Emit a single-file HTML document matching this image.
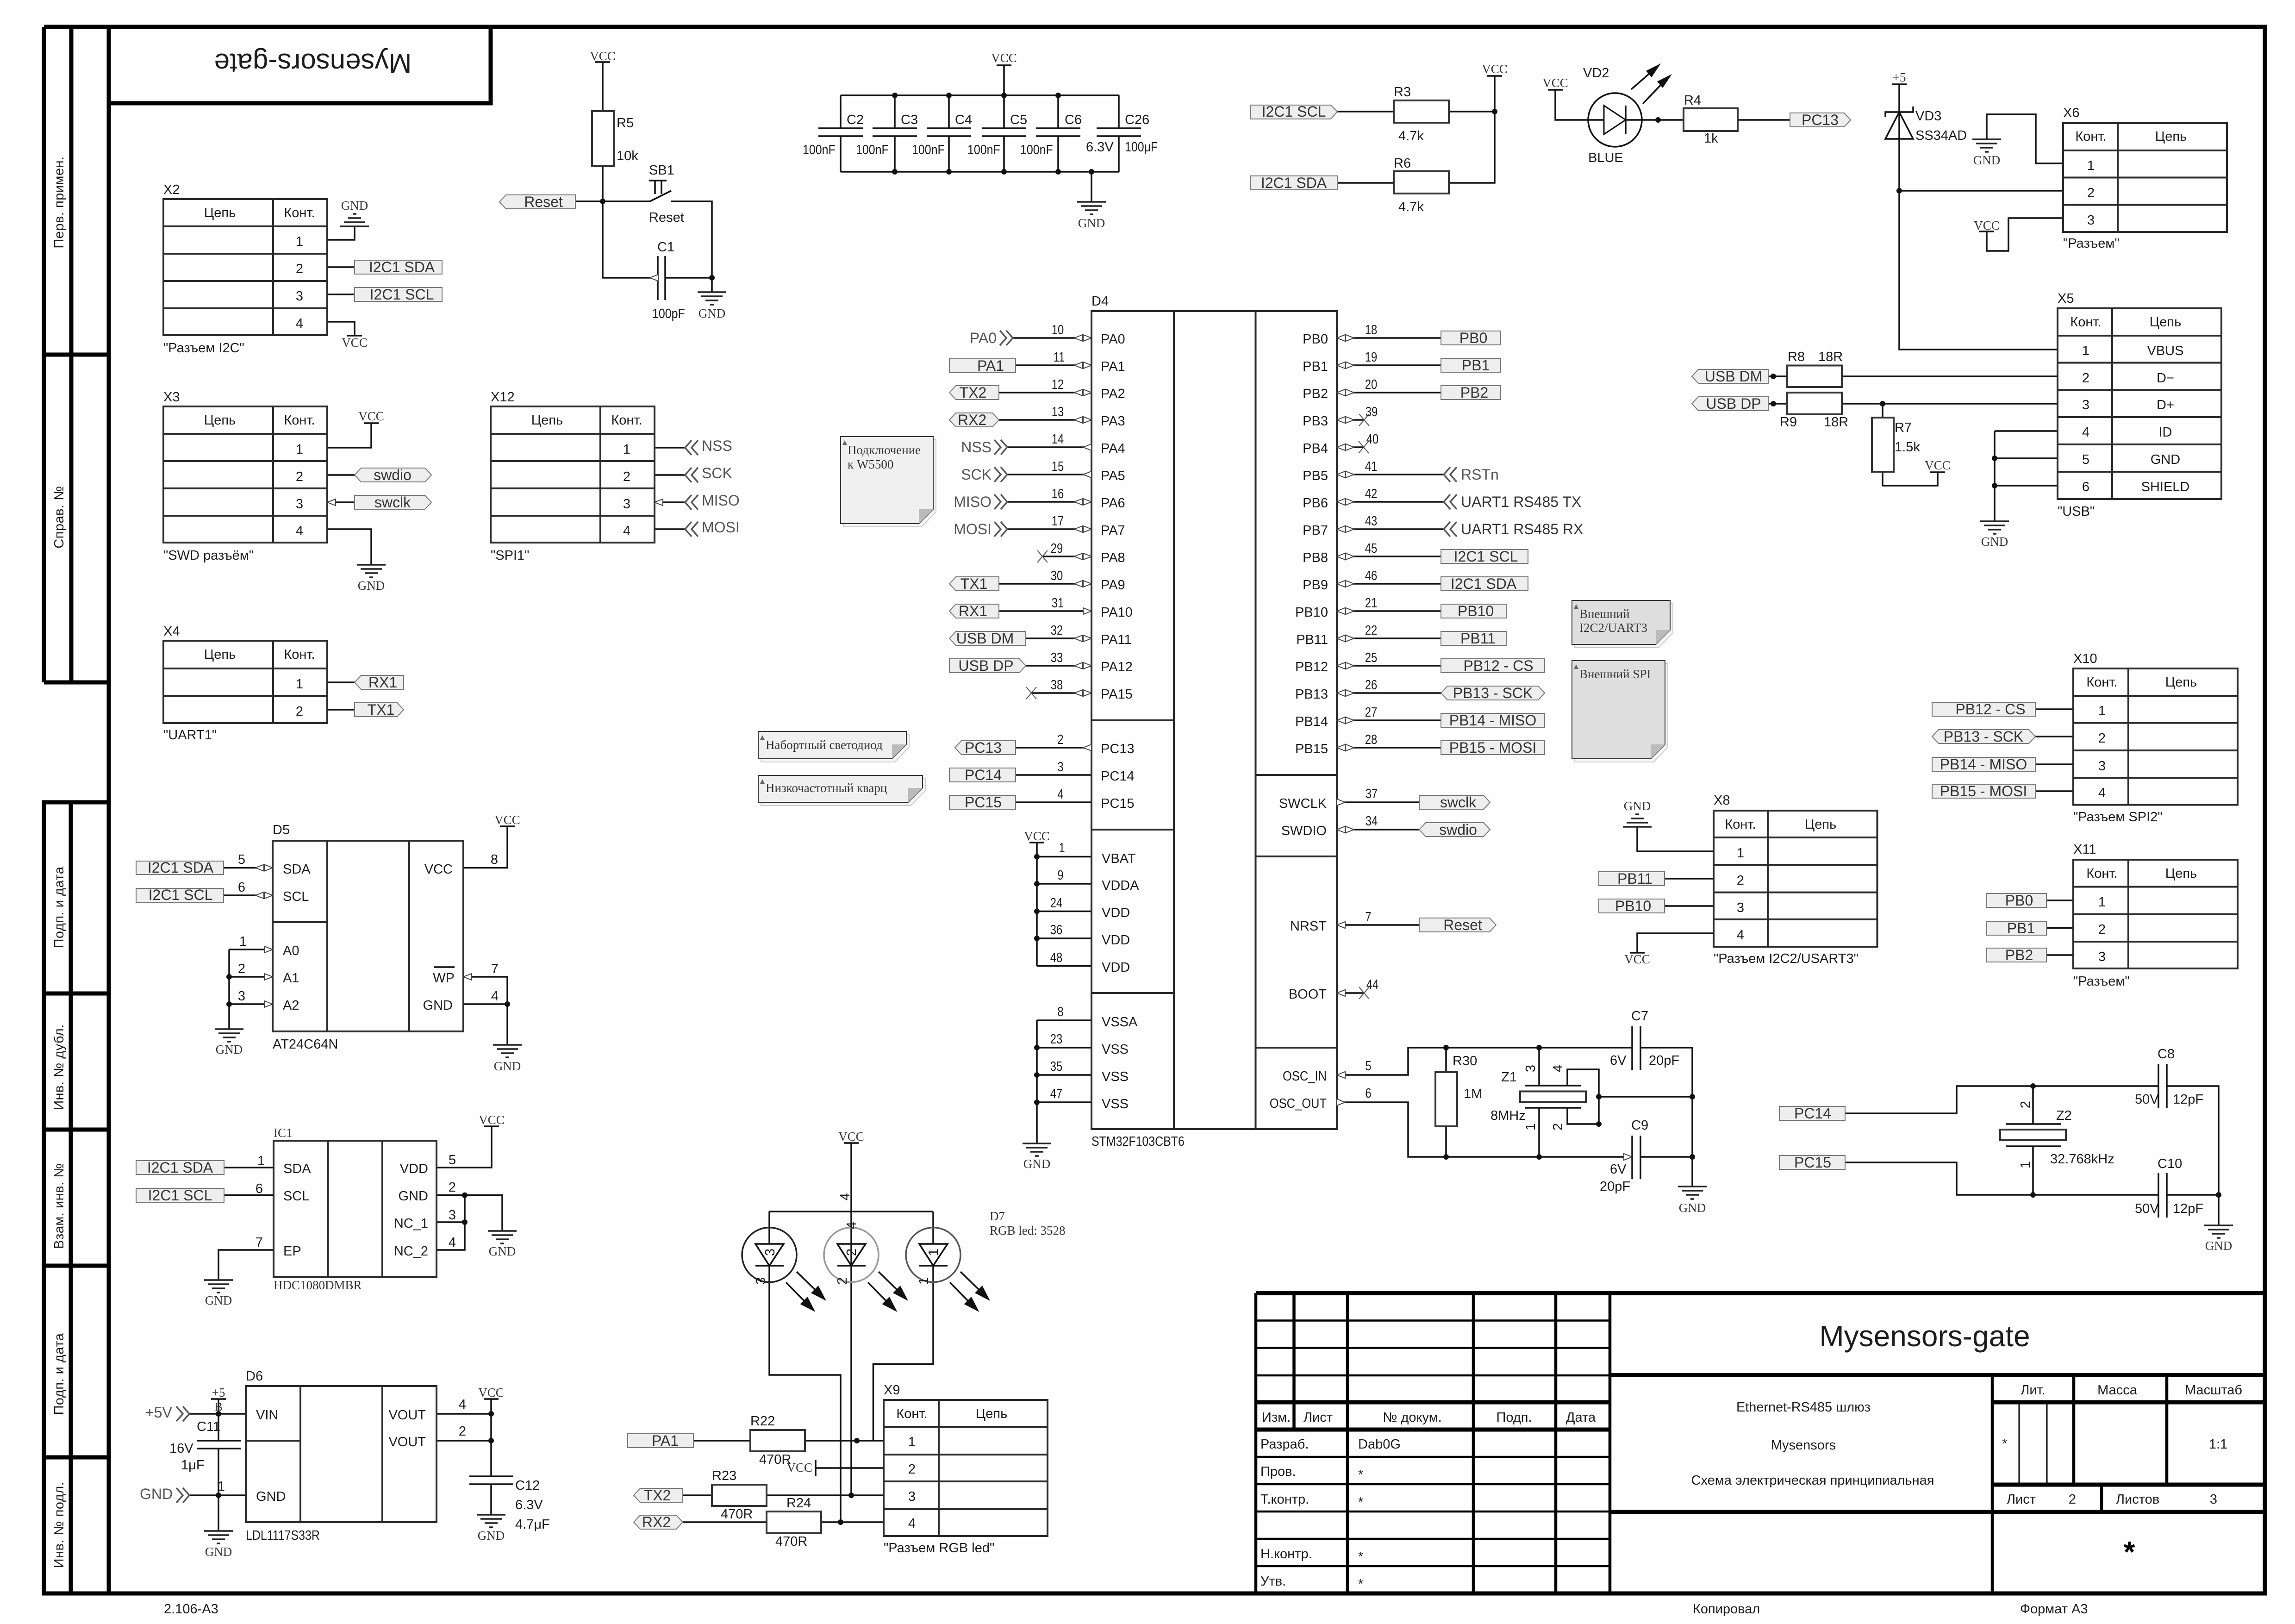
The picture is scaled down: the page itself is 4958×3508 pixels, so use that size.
<!DOCTYPE html>
<html><head><meta charset="utf-8"><style>
html,body{margin:0;padding:0;background:#fefefe}
svg{display:block}
text{font-family:"Liberation Sans",sans-serif;font-size:29px;fill:#1c1c1c}
.m{text-anchor:middle}.e{text-anchor:end}
.d text{text-anchor:middle;transform-box:fill-box;transform-origin:center;transform:scaleX(.82)}
.dl{transform-box:fill-box;transform-origin:left center;transform:scaleX(.86)}
.dr{transform-box:fill-box;transform-origin:right center;transform:scaleX(.88)}
.s{font-family:"Liberation Serif",serif;font-size:27px;fill:#333}
.L{font-size:32px;fill:#333}
.c{font-size:32px;fill:#555}
.f{font-size:28px;letter-spacing:.5px}
.k{font-size:26px}
.w{fill:none;stroke:#111;stroke-width:3.5}
.t{fill:none;stroke:#2a2a2a;stroke-width:4}
.F{fill:none;stroke:#000;stroke-width:9}
.h{fill:none;stroke:#000;stroke-width:4.5}
.v{fill:none;stroke:#000;stroke-width:6.5}
.b{fill:#eee;stroke:#777;stroke-width:2}
.o{fill:#fff;stroke:#444;stroke-width:2}
.sh{fill:#f5f5f5;stroke:#ccc;stroke-width:2}
.n{fill:#f0f0f0;stroke:#333;stroke-width:2}
.n2{fill:#dedede;stroke:#333;stroke-width:2}
.fo{fill:#bbb}.tr{fill:#666}
</style></head><body>
<svg xmlns="http://www.w3.org/2000/svg" width="4958" height="3508" viewBox="0 0 4958 3508">
<defs>
<g id="g" fill="none" stroke="#222" stroke-width="3.5"><path d="M-31 0H31M-23 9H23M-14 18H14M-4 27H4"/></g>
<g id="gu" fill="none" stroke="#222" stroke-width="3.5"><path d="M-31 0H31M-23 -9H23M-14 -18H14M-4 -27H4"/></g>
<g id="bl"><polygon class="o" points="0,0 -18,-7 -18,7"/><polygon class="o" points="-37,0 -19,-7 -19,7"/></g>
<g id="br"><polygon class="o" points="0,0 18,-7 18,7"/><polygon class="o" points="37,0 19,-7 19,7"/></g>
<polygon id="tl" class="o" points="0,0 18,-7 18,7"/>
<polygon id="tr" class="o" points="0,0 -18,-7 -18,7"/>
<path id="x" d="M-11 -13L11 13M-11 13L11 -13" fill="none" stroke="#555" stroke-width="2"/>
<path id="cl" d="M14 -16L0 0L14 16M28 -16L14 0L28 16" fill="none" stroke="#555" stroke-width="3.5"/>
<path id="cr" d="M-14 -16L0 0L-14 16M-28 -16L-14 0L-28 16" fill="none" stroke="#555" stroke-width="3.5"/>
<g id="la"><path d="M59 2747L105 2792M36 2770L80 2815" fill="none" stroke="#111" stroke-width="3.5"/><polygon points="123,2810 106,2777 90,2793" fill="#111"/><polygon points="99.5,2834 82.5,2801 66.5,2817" fill="#111"/></g>
</defs>
<rect width="4958" height="3508" fill="#fefefe"/>

<!-- frame -->
<path class="F" d="M95 58H4893V3442H95V1733H235M95 1474V58M95 1474H235M154 58V1474M153 1733V3442M235 58V3442M1060 58V223H235M95 766H235M95 2146H235M95 2440H235M95 2734H235M95 3148H235"/>
<g class="f">
<text class="m" transform="rotate(-90 137 437)" x="137" y="437">Перв. примен.</text>
<text class="m" transform="rotate(-90 137 1117)" x="137" y="1117">Справ. №</text>
<text class="m" transform="rotate(-90 137 1960)" x="137" y="1960">Подп. и дата</text>
<text class="m" transform="rotate(-90 137 2305)" x="137" y="2305">Инв. № дубл.</text>
<text class="m" transform="rotate(-90 137 2605)" x="137" y="2605">Взам. инв. №</text>
<text class="m" transform="rotate(-90 137 2968)" x="137" y="2968">Подп. и дата</text>
<text class="m" transform="rotate(-90 137 3294)" x="137" y="3294">Инв. № подл.</text>
</g>
<text class="m" transform="rotate(180 676 116)" x="676" y="116" style="font-size:60px">Mysensors-gate</text>

<!-- title block -->
<path class="F" d="M2713 2793.5H4893M2713 3029H3478M2713 3088H3478M3478 2970.5H4893M3478 3266H4893M4304 3029H4893M4304 3207H4893"/>
<path class="h" d="M2713 2852.5H3478M2713 2911.5H3478M2713 2971H3478M2713 3147H3478M2713 3206H3478M2713 3265H3478M2713 3324H3478M2713 3383H3478"/>
<path class="v" d="M2713 2793V3442M2795.5 2793V3088M2911 2793V3442M3183 2793V3442M3361 2793V3442M3478 2793V3442M4304 2970V3442M4480 2970V3207M4681 2970V3207M4540 3207V3266"/>
<path fill="none" stroke="#000" stroke-width="3" d="M4362 3029V3207M4422 3029V3207"/>
<text class="m" x="4158" y="2908" style="font-size:64px">Mysensors-gate</text>
<g class="k">
<text x="2726" y="3071">Изм.</text><text x="2816" y="3071">Лист</text><text class="m" x="3051" y="3071">№ докум.</text><text class="m" x="3271" y="3071">Подп.</text><text class="m" x="3415" y="3071">Дата</text>
<text x="2723" y="3129">Разраб.</text><text x="2934" y="3129">Dab0G</text>
<text x="2723" y="3188">Пров.</text><text x="2934" y="3195">*</text>
<text x="2723" y="3248">Т.контр.</text><text x="2934" y="3254">*</text>
<text x="2723" y="3366">Н.контр.</text><text x="2934" y="3372">*</text>
<text x="2723" y="3425">Утв.</text><text x="2934" y="3431">*</text>
<text class="m" x="3896" y="3049" textLength="290" lengthAdjust="spacingAndGlyphs">Ethernet-RS485 шлюз</text>
<text class="m" x="3896" y="3131">Mysensors</text>
<text class="m" x="3916" y="3207" textLength="525" lengthAdjust="spacingAndGlyphs">Схема электрическая принципиальная</text>
<text class="m" x="4392" y="3012">Лит.</text><text class="m" x="4574" y="3012">Масса</text><text class="m" x="4782" y="3012">Масштаб</text>
<text class="m" x="4331" y="3128">*</text><text class="m" x="4792" y="3129">1:1</text>
<text x="4335" y="3248">Лист</text><text class="m" x="4477" y="3248">2</text><text x="4571" y="3248">Листов</text><text class="m" x="4782" y="3248">3</text>
<text x="3657" y="3485">Копировал</text><text x="4364" y="3485">Формат А3</text><text x="354" y="3485">2.106-А3</text>
</g>
<text class="m" x="4600" y="3374" style="font-size:64px;font-weight:bold;fill:#000">*</text>

<!-- wires -->
<path class="w" d="
M707 518H766V489M707 577H766M707 636H766M707 695H766V725M750 725H782
M1302 134V240M1286 134H1318M1302 359V600H1421M1243 435H1404L1450 412M1450 435H1538V631M1437 600H1538M1421 553V648M1437 553V648
M1402 390H1440M1415 390V419M1429 390V419
M707 967H802V914M786 914H818M707 1026H766M707 1085H766M707 1143H802V1220
M1414 967H1480M1414 1026H1480M1414 1085H1480M1414 1143H1480
M707 1474H766M707 1533H766
M483 1874.5H589M483 1934H589M495 2051V2223M495 2051H589M495 2110H589M495 2169H589
M1001 1874.5H1096V1785M1080 1785H1112M1001 2110H1096V2257M1001 2169H1096M938 2089H982
M484 2522H591M484 2581.6H591M591 2700H472V2765
M943 2522H1062V2433M1046 2433H1078M943 2581.6H1085V2659M943 2640H1004M943 2700H1004V2581.6
M409 3054H531M409 3230H531M472 3022V3112M472 3129V3307M456 3022H488M425 3112H520M425 3129H520
M943 3054H1061M943 3112H1061M1061 3022V3189M1045 3022H1077M1014 3189H1109M1014 3206H1109M1061 3206V3272
M1816 206H2417M1816 371H2417M1816 206V277M1933 206V277M2050 206V277M2169 206V277M2286 206V277M2417 206V277M1816 294V371M1933 294V371M2050 294V371M2169 294V371M2286 294V371M2417 294V371
M1768 277H1864M1885 277H1981M2002 277H2098M2121 277H2217M2238 277H2334M2369 277H2465M1768 294H1864M1885 294H1981M2002 294H2098M2121 294H2217M2238 294H2334M2369 294H2465
M2169 141V206M2153 141H2185M2358 371V436
M2889 241H3011M3130 241H3229M3229 164V395H3130M3213 164H3245M2889 395H3011
M3344 194H3376M3360 194V259H3465M3512 259H3637M3754 259H3867M3512 228V290M3524 193L3570 153M3549 224L3595 176
M4103 182V755H4445M4087 182H4119M4103 412H4457M4073 253V242H4133V230
M4292 301V247H4398V353H4457M4276 500H4308M4292 500V542H4339V471H4457
M3820 813H3861M3979 813H4445M3820 872H3861M3979 872H4445M4067 872V902M4067 1019V1049H4186V1020M4170 1020H4202
M4309 931V1126M4309 931H4445M4309 990H4445M4309 1049H4445
M2188 730H2358M2194 789H2358M2158 848H2358M2158 907H2358M2176 966H2358M2176 1025H2358M2176 1084H2358M2176 1143H2358M2252 1202H2358M2158 1261H2358M2158 1320H2358M2216 1379H2358M2216 1438H2358M2228 1497H2358M2194 1615H2358M2194 1674H2358M2194 1733H2358
M2888 730H3113M2888 789H3113M2888 848H3113M2888 907H2947M2888 966H2946M2888 1025H3119M2888 1084H3119M2888 1143H3119M2888 1202H3113M2888 1261H3113M2888 1320H3113M2888 1379H3113M2888 1438H3113M2888 1497H3113M2888 1556H3113M2888 1615H3113
M2888 1733H3066M2888 1792H3066M2888 1998H3066M2888 2145H2947
M2224 1820H2256M2240 1820V2086.5M2240 1850.5H2358M2240 1909H2358M2240 1968.5H2358M2240 2027H2358M2240 2086.5H2358
M2240 2204V2470M2240 2204H2358M2240 2263H2358M2240 2322H2358M2240 2381H2358
M2888 2322H3042V2263H3526M3544 2263H3656V2563M2888 2381H3042V2499H3526M3544 2499H3656M3526 2217V2311M3544 2217V2311M3526 2453V2547M3544 2453V2547
M3124 2263V2316M3124 2433V2499M3325 2263V2345M3325 2393V2499M3295 2345H3415M3295 2393H3415M3386 2345V2310H3454V2428M3386 2393V2428H3454M3454 2369H3656
M1839 2469V3230M1823 2469H1855M1662 2617H2016M1662 2617V2687M1839 2617V2687M2016 2617V2687M1662 2734V2970H1816V3288M2016 2734V2946.5H1886.5V3112M1839 2734V3230
M1632 2734H1693M1809 2734H1870M1986 2734H2047
M1498 3112H1621M1739 3112H1909M1762 3171H1909M1762 3154V3188M1475 3230H1538M1656 3230H1909M1475 3288H1656M1774 3288H1909
M3537 1786V1839H3702M3596 1898H3702M3596 1957H3702M3702 2016H3537V2058M3521 2058H3553
M4397 1532H4479M4397 1591H4479M4397 1651H4479M4397 1709H4479M4421 1945H4479M4421 2004.5H4479M4421 2063H4479
M3986 2405H4227V2346H4663M4681 2346H4793V2647M3986 2511H4227V2581H4663M4681 2581H4793M4663 2298V2394M4681 2298V2394M4663 2534V2630M4681 2534V2630
M4392 2346V2428M4392 2476V2581M4333 2428H4452M4333 2476H4452"/>
<polygon points="1632,2687 1693,2687 1662,2734" fill="none" stroke="#111" stroke-width="3.5"/>
<polygon points="1809,2687 1870,2687 1839,2734" fill="none" stroke="#111" stroke-width="3.5"/>
<polygon points="1986,2687 2047,2687 2016,2734" fill="none" stroke="#111" stroke-width="3.5"/>
<circle cx="1662" cy="2710.6" r="59" fill="none" stroke="#222" stroke-width="3.5"/>
<circle cx="1839" cy="2710.6" r="59" fill="none" stroke="#999" stroke-width="3.5"/>
<circle cx="2016" cy="2710.6" r="59" fill="none" stroke="#555" stroke-width="3.5"/>
<use href="#la" x="1662"/><use href="#la" x="1839"/><use href="#la" x="2016"/>
<circle cx="3489" cy="259" r="58" fill="none" stroke="#111" stroke-width="3.5"/>
<polygon points="3465,228 3465,290 3512,259" fill="none" stroke="#111" stroke-width="3"/>
<polygon points="3588,137 3568,167 3556,153" fill="#111"/><polygon points="3612,160 3592,190 3580,176" fill="#111"/>
<polygon points="4073,300 4133,300 4103,242" fill="none" stroke="#111" stroke-width="3.5"/>

<!-- resistors -->
<g fill="#fff" stroke="#333" stroke-width="4">
<rect x="1279" y="240" width="47" height="119"/><rect x="3011" y="217" width="119" height="48"/><rect x="3011" y="370" width="119" height="48"/><rect x="3637" y="234" width="117" height="49"/>
<rect x="3861" y="789.5" width="118" height="46.5"/><rect x="3861" y="848" width="118" height="47"/><rect x="4044" y="902" width="47" height="117"/>
<rect x="3101" y="2316" width="47" height="117"/><rect x="3284" y="2357.5" width="142" height="23"/><rect x="4321" y="2440" width="142" height="23"/>
<rect x="1621" y="3089" width="118" height="46"/><rect x="1538" y="3207" width="118" height="46"/><rect x="1656" y="3265" width="118" height="47"/>
</g>

<!-- tables -->
<path class="t" d="M353 430H707V724H353ZM353 489H707M353 548H707M353 607H707M353 666H707M590 430V724
M353 878H707V1172H353ZM353 937H707M353 996H707M353 1055H707M353 1114H707M590 878V1172
M1060 878H1414V1172H1060ZM1060 937H1414M1060 996H1414M1060 1055H1414M1060 1114H1414M1297 878V1172
M353 1384H707V1562H353ZM353 1444H707M353 1503H707M590 1384V1562
M589 1816H1001V2228H589ZM707 1816V2228M884 1816V2228M589 1992H707
M591 2464H943V2758H591ZM708.5 2464V2758M826 2464V2758
M531 2994H943V3288H531ZM649 2994V3288M826 2994V3288M531 3112H649
M2358 672H2888V2439H2358ZM2536 672V2439M2712.5 672V2439M2358 1556H2536M2358 1792H2536M2358 2145H2536M2712.5 1674H2888M2712.5 1850H2888M2712.5 2263H2888
M4457 266H4811V501H4457ZM4457 325H4811M4457 383.5H4811M4457 442.5H4811M4575 266V501
M4445 666H4799V1078H4445ZM4445 725H4799M4445 783.5H4799M4445 842.5H4799M4445 901H4799M4445 960H4799M4445 1019H4799M4563 666V1078
M1909 3024H2263V3318H1909ZM1909 3082H2263M1909 3142H2263M1909 3200H2263M1909 3260H2263M2028 3024V3318
M3702 1751H4055.5V2045H3702ZM3702 1809H4055.5M3702 1868H4055.5M3702 1927.6H4055.5M3702 1986H4055.5M3819 1751V2045
M4479 1444H4834V1738.5H4479ZM4479 1503H4834M4479 1561.5H4834M4479 1621H4834M4479 1680H4834M4598 1444V1738.5
M4479 1857H4834V2092H4479ZM4479 1915.5H4834M4479 1975H4834M4479 2034H4834M4598 1857V2092"/>

<!-- junctions -->
<g fill="#111">
<circle cx="1302" cy="435" r="6"/><circle cx="1538" cy="600" r="6"/>
<circle cx="495" cy="2110" r="6"/><circle cx="495" cy="2169" r="6"/><circle cx="1096" cy="2169" r="6"/>
<circle cx="1004" cy="2581.6" r="6"/><circle cx="1004" cy="2640" r="6"/>
<circle cx="472" cy="3054" r="6"/><circle cx="472" cy="3230" r="6"/><circle cx="1061" cy="3054" r="6"/><circle cx="1061" cy="3112" r="6"/>
<circle cx="1933" cy="206" r="6"/><circle cx="2050" cy="206" r="6"/><circle cx="2169" cy="206" r="6"/><circle cx="2286" cy="206" r="6"/>
<circle cx="1933" cy="371" r="6"/><circle cx="2050" cy="371" r="6"/><circle cx="2169" cy="371" r="6"/><circle cx="2286" cy="371" r="6"/><circle cx="2358" cy="371" r="6"/>
<circle cx="3229" cy="241" r="6"/><circle cx="3582" cy="259" r="6"/>
<circle cx="4103" cy="412" r="6"/><circle cx="3831" cy="813" r="6"/><circle cx="3831" cy="872" r="6"/><circle cx="4067" cy="872" r="6"/><circle cx="4309" cy="990" r="6"/><circle cx="4309" cy="1049" r="6"/>
<circle cx="2240" cy="1850.5" r="6"/><circle cx="2240" cy="1909" r="6"/><circle cx="2240" cy="1968.5" r="6"/><circle cx="2240" cy="2027" r="6"/>
<circle cx="2240" cy="2263" r="6"/><circle cx="2240" cy="2322" r="6"/><circle cx="2240" cy="2381" r="6"/>
<circle cx="3124" cy="2263" r="6"/><circle cx="3325" cy="2263" r="6"/><circle cx="3124" cy="2499" r="6"/><circle cx="3325" cy="2499" r="6"/><circle cx="3656" cy="2369" r="6"/><circle cx="3656" cy="2499" r="6"/><circle cx="3454" cy="2369" r="6"/><circle cx="3454" cy="2428" r="6"/>
<circle cx="1851" cy="3112" r="6"/><circle cx="1839" cy="3230" r="6"/><circle cx="1816" cy="3288" r="6"/>
<circle cx="4392" cy="2346" r="6"/><circle cx="4392" cy="2581" r="6"/><circle cx="4793" cy="2581" r="6"/>
</g>

<!-- ground symbols -->
<use href="#g" x="1538" y="631"/><use href="#gu" x="766" y="489"/><use href="#g" x="802" y="1220"/><use href="#g" x="495" y="2223"/><use href="#g" x="1096" y="2257"/><use href="#g" x="472" y="2765"/><use href="#g" x="1085" y="2659"/><use href="#g" x="472" y="3307"/><use href="#g" x="1061" y="3272"/><use href="#g" x="2358" y="436"/><use href="#g" x="2240" y="2470"/><use href="#g" x="4292" y="301"/><use href="#g" x="4309" y="1126"/><use href="#gu" x="3537" y="1786"/><use href="#g" x="3656" y="2563"/><use href="#g" x="4793" y="2647"/>
<g class="s">
<text class="s m" x="1538" y="686">GND</text><text class="s m" x="766" y="453">GND</text><text class="s m" x="802" y="1274">GND</text><text class="s m" x="495" y="2276">GND</text><text class="s m" x="1096" y="2312">GND</text><text class="s m" x="472" y="2818">GND</text><text class="s m" x="1085" y="2712">GND</text><text class="s m" x="472" y="3361">GND</text><text class="s m" x="1061" y="3326">GND</text><text class="s m" x="2358" y="491">GND</text><text class="s m" x="2240" y="2523">GND</text><text class="s m" x="4292" y="355">GND</text><text class="s m" x="4309" y="1179">GND</text><text class="s m" x="3537" y="1750">GND</text><text class="s m" x="3656" y="2618">GND</text><text class="s m" x="4793" y="2700">GND</text>
<text class="s m" x="1302" y="130">VCC</text><text class="s m" x="766" y="749">VCC</text><text class="s m" x="802" y="908">VCC</text><text class="s m" x="1096" y="1780">VCC</text><text class="s m" x="1062" y="2428">VCC</text><text class="s m" x="1061" y="3017">VCC</text><text class="s m" x="2169" y="134">VCC</text><text class="s m" x="3229" y="158">VCC</text><text class="s m" x="3360" y="188">VCC</text><text class="s m" x="4292" y="496">VCC</text><text class="s m" x="4186" y="1014">VCC</text><text class="s m" x="2240" y="1815">VCC</text><text class="s m" x="1839" y="2464">VCC</text><text class="s e" x="1755" y="3179">VCC</text><text class="s m" x="3537" y="2081">VCC</text>
<text class="s m" x="4103" y="176">+5</text><text class="s m" x="472" y="3017">+5</text><text class="s m" x="472" y="3048">В</text>
<text class="s" x="591" y="2456">IC1</text><text class="s" x="591" y="2785">HDC1080DMBR</text>
<text class="s" x="2138" y="2636">D7</text><text class="s" x="2138" y="2667">RGB led: 3528</text>
</g>

<!-- pin markers -->
<use href="#bl" x="2358" y="730"/><use href="#bl" x="2358" y="789"/><use href="#bl" x="2358" y="848"/><use href="#bl" x="2358" y="907"/><use href="#tl" x="2340" y="966"/><use href="#tl" x="2340" y="1025"/><use href="#bl" x="2358" y="1084"/><use href="#bl" x="2358" y="1143"/><use href="#bl" x="2358" y="1202"/><use href="#bl" x="2358" y="1261"/><use href="#tr" x="2358" y="1320"/><use href="#bl" x="2358" y="1379"/><use href="#bl" x="2358" y="1438"/><use href="#bl" x="2358" y="1497"/><use href="#tl" x="2340" y="1615"/>
<use href="#br" x="2888" y="730"/><use href="#br" x="2888" y="789"/><use href="#br" x="2888" y="848"/><use href="#br" x="2888" y="907"/><use href="#br" x="2888" y="966"/><use href="#br" x="2888" y="1025"/><use href="#br" x="2888" y="1084"/><use href="#br" x="2888" y="1143"/><use href="#br" x="2888" y="1202"/><use href="#br" x="2888" y="1261"/><use href="#br" x="2888" y="1320"/><use href="#br" x="2888" y="1379"/><use href="#br" x="2888" y="1438"/><use href="#br" x="2888" y="1497"/><use href="#br" x="2888" y="1556"/><use href="#br" x="2888" y="1615"/>
<use href="#tr" x="2906" y="1733"/><use href="#br" x="2888" y="1792"/><use href="#tl" x="2888" y="1998"/><use href="#tl" x="2888" y="2145"/><use href="#tl" x="2888" y="2322"/><use href="#tr" x="2906" y="2381"/>
<use href="#bl" x="589" y="1874.5"/><use href="#bl" x="589" y="1934"/><use href="#tr" x="589" y="2051"/><use href="#tr" x="589" y="2110"/><use href="#tr" x="589" y="2169"/><use href="#tl" x="1001" y="2110"/>
<use href="#tl" x="707" y="1085"/><use href="#tl" x="1414" y="1085"/><use href="#tl" x="1404" y="600"/><use href="#tr" x="3526" y="2499"/>
<use href="#x" x="2252" y="1202"/><use href="#x" x="2228" y="1497"/><use href="#x" x="2947" y="907"/><use href="#x" x="2946" y="966"/><use href="#x" x="2947" y="2145"/>
<use href="#cr" x="2188" y="730"/><use href="#cr" x="2176" y="966"/><use href="#cr" x="2176" y="1025"/><use href="#cr" x="2176" y="1084"/><use href="#cr" x="2176" y="1143"/><use href="#cr" x="409" y="3054"/><use href="#cr" x="409" y="3230"/>
<use href="#cl" x="3119" y="1025"/><use href="#cl" x="3119" y="1084"/><use href="#cl" x="3119" y="1143"/><use href="#cl" x="1480" y="967"/><use href="#cl" x="1480" y="1026"/><use href="#cl" x="1480" y="1085"/><use href="#cl" x="1480" y="1143"/>

<!-- signal label boxes -->
<polygon class="b" points="1079,436 1093,421 1243,421 1243,451 1093,451"/>
<rect class="b" x="766" y="562" width="189" height="30"/><rect class="b" x="766" y="621" width="189" height="30"/>
<polygon class="b" points="766,1026 780,1011 918,1011 932,1026 918,1041 780,1041"/>
<polygon class="b" points="766,1070 918,1070 932,1085 918,1100 766,1100"/>
<polygon class="b" points="766,1474 780,1459 872,1459 872,1489 780,1489"/>
<polygon class="b" points="766,1518 858,1518 872,1533 858,1548 766,1548"/>
<rect class="b" x="294" y="1860" width="189" height="29"/><rect class="b" x="294" y="1919" width="189" height="30"/>
<rect class="b" x="294" y="2507" width="190" height="30"/><rect class="b" x="294" y="2567" width="190" height="30"/>
<polygon class="b" points="2701,227 2875,227 2889,241 2875,257 2701,257"/><rect class="b" x="2701" y="380" width="188" height="30"/>
<polygon class="b" points="3867,244 3984,244 3998,259 3984,274 3867,274"/>
<polygon class="b" points="3655,813 3669,798 3820,798 3820,828 3669,828"/><polygon class="b" points="3655,872 3669,857 3820,857 3820,887 3669,887"/>
<rect class="b" x="2051" y="775" width="143" height="30"/>
<polygon class="b" points="2051,848 2065,833 2158,833 2158,863 2065,863"/>
<polygon class="b" points="2051,907 2065,892 2144,892 2158,907 2144,922 2065,922"/>
<polygon class="b" points="2051,1261 2065,1246 2158,1246 2158,1276 2065,1276"/>
<polygon class="b" points="2051,1320 2065,1305 2158,1305 2158,1335 2065,1335"/>
<polygon class="b" points="2051,1379 2065,1364 2216,1364 2216,1394 2065,1394"/>
<polygon class="b" points="2051,1423 2202,1423 2216,1438 2202,1453 2051,1453"/>
<polygon class="b" points="2063,1615 2077,1600 2194,1600 2194,1630 2077,1630"/>
<rect class="b" x="2051" y="1659" width="143" height="30"/><rect class="b" x="2051" y="1718" width="143" height="30"/>
<rect class="b" x="3113" y="715" width="129" height="30"/><rect class="b" x="3113" y="774" width="129" height="30"/><rect class="b" x="3113" y="833" width="129" height="30"/>
<rect class="b" x="3113" y="1187" width="188" height="30"/><rect class="b" x="3113" y="1246" width="188" height="30"/><rect class="b" x="3113" y="1305" width="141" height="30"/><rect class="b" x="3113" y="1364" width="141" height="30"/>
<rect class="b" x="3113" y="1423" width="224" height="30"/>
<polygon class="b" points="3113,1497 3127,1482 3323,1482 3337,1497 3323,1512 3127,1512"/>
<rect class="b" x="3113" y="1541" width="224" height="30"/><rect class="b" x="3113" y="1600" width="224" height="30"/>
<polygon class="b" points="3066,1718 3205,1718 3219,1733 3205,1748 3066,1748"/>
<polygon class="b" points="3066,1792 3080,1777 3205,1777 3219,1792 3205,1807 3080,1807"/>
<polygon class="b" points="3066,1983 3218,1983 3232,1998 3218,2013 3066,2013"/>
<rect class="b" x="1356" y="3097" width="142" height="30"/>
<polygon class="b" points="1369,3230 1383,3215 1475,3215 1475,3245 1383,3245"/>
<polygon class="b" points="1369,3288 1383,3273 1461,3273 1475,3288 1461,3303 1383,3303"/>
<rect class="b" x="3454" y="1883" width="142" height="30"/><rect class="b" x="3454" y="1942" width="142" height="30"/>
<rect class="b" x="4174" y="1517" width="223" height="30"/>
<polygon class="b" points="4174,1591 4188,1576 4383,1576 4397,1591 4383,1606 4188,1606"/>
<rect class="b" x="4174" y="1636" width="223" height="30"/><rect class="b" x="4174" y="1694" width="223" height="30"/>
<rect class="b" x="4292" y="1930" width="129" height="30"/><rect class="b" x="4292" y="1990" width="129" height="30"/><rect class="b" x="4292" y="2048" width="129" height="30"/>
<rect class="b" x="3844" y="2390" width="142" height="30"/><rect class="b" x="3844" y="2496" width="142" height="30"/>

<g>
<text class="L m" x="1174" y="447">Reset</text><text class="L m" x="868" y="588">I2C1 SDA</text><text class="L m" x="868" y="647">I2C1 SCL</text>
<text class="L m" x="848" y="1037">swdio</text><text class="L m" x="848" y="1096">swclk</text><text class="L m" x="827" y="1485">RX1</text><text class="L m" x="823" y="1544">TX1</text>
<text class="L m" x="390" y="1885">I2C1 SDA</text><text class="L m" x="390" y="1944">I2C1 SCL</text><text class="L m" x="389" y="2533">I2C1 SDA</text><text class="L m" x="389" y="2593">I2C1 SCL</text>
<text class="L m" x="2795" y="252">I2C1 SCL</text><text class="L m" x="2795" y="406">I2C1 SDA</text><text class="L m" x="3932" y="270">PC13</text>
<text class="L m" x="3745" y="824">USB DM</text><text class="L m" x="3745" y="883">USB DP</text>
<text class="L m" x="2140" y="801">PA1</text><text class="L m" x="2102" y="859">TX2</text><text class="L m" x="2100" y="918">RX2</text><text class="L m" x="2104" y="1272">TX1</text><text class="L m" x="2102" y="1331">RX1</text><text class="L m" x="2128" y="1390">USB DM</text><text class="L m" x="2130" y="1449">USB DP</text><text class="L m" x="2124" y="1626">PC13</text><text class="L m" x="2124" y="1685">PC14</text><text class="L m" x="2124" y="1744">PC15</text>
<text class="L m" x="3183" y="741">PB0</text><text class="L m" x="3188" y="800">PB1</text><text class="L m" x="3185" y="859">PB2</text><text class="L m" x="3210" y="1213">I2C1 SCL</text><text class="L m" x="3205" y="1272">I2C1 SDA</text><text class="L m" x="3188" y="1331">PB10</text><text class="L m" x="3193" y="1390">PB11</text><text class="L m" x="3237" y="1449">PB12 - CS</text><text class="L m" x="3225" y="1508">PB13 - SCK</text><text class="L m" x="3225" y="1567">PB14 - MISO</text><text class="L m" x="3225" y="1626">PB15 - MOSI</text>
<text class="L m" x="3150" y="1744">swclk</text><text class="L m" x="3150" y="1803">swdio</text><text class="L m" x="3160" y="2009">Reset</text>
<text class="L m" x="1437" y="3123">PA1</text><text class="L m" x="1420" y="3241">TX2</text><text class="L m" x="1418" y="3299">RX2</text>
<text class="L m" x="3532" y="1909">PB11</text><text class="L m" x="3528" y="1968">PB10</text>
<text class="L m" x="4300" y="1543">PB12 - CS</text><text class="L m" x="4285" y="1602">PB13 - SCK</text><text class="L m" x="4285" y="1662">PB14 - MISO</text><text class="L m" x="4285" y="1720">PB15 - MOSI</text>
<text class="L m" x="4362" y="1956">PB0</text><text class="L m" x="4366" y="2016">PB1</text><text class="L m" x="4362" y="2074">PB2</text>
<text class="L m" x="3916" y="2416">PC14</text><text class="L m" x="3916" y="2522">PC15</text>
<text class="c e" x="2153" y="741">PA0</text><text class="c e" x="2142" y="977">NSS</text><text class="c e" x="2142" y="1036">SCK</text><text class="c e" x="2142" y="1095">MISO</text><text class="c e" x="2142" y="1154">MOSI</text>
<text class="c" x="3156" y="1036">RSTn</text><text class="L" x="3156" y="1095">UART1 RS485 TX</text><text class="L" x="3156" y="1154">UART1 RS485 RX</text>
<text class="c" x="1516" y="974">NSS</text><text class="c" x="1516" y="1033">SCK</text><text class="c" x="1516" y="1092">MISO</text><text class="c" x="1516" y="1150">MOSI</text>
<text class="c" x="314" y="3062">+5V</text><text class="c" x="302" y="3238">GND</text>
</g>

<!-- table texts -->
<text x="353" y="419">X2</text><text class="m" x="475" y="469">Цепь</text><text class="m" x="647" y="469">Конт.</text><text class="m" x="647" y="531">1</text><text class="m" x="647" y="590">2</text><text class="m" x="647" y="649">3</text><text class="m" x="647" y="708">4</text><text x="353" y="761">"Разъем I2C"</text>
<text x="353" y="867">X3</text><text class="m" x="475" y="917">Цепь</text><text class="m" x="647" y="917">Конт.</text><text class="m" x="647" y="980">1</text><text class="m" x="647" y="1039">2</text><text class="m" x="647" y="1098">3</text><text class="m" x="647" y="1156">4</text><text x="353" y="1209">"SWD разъём"</text>
<text x="1060" y="867">X12</text><text class="m" x="1182" y="917">Цепь</text><text class="m" x="1354" y="917">Конт.</text><text class="m" x="1354" y="980">1</text><text class="m" x="1354" y="1039">2</text><text class="m" x="1354" y="1098">3</text><text class="m" x="1354" y="1156">4</text><text x="1060" y="1209">"SPI1"</text>
<text x="353" y="1373">X4</text><text class="m" x="475" y="1423">Цепь</text><text class="m" x="647" y="1423">Конт.</text><text class="m" x="647" y="1487">1</text><text class="m" x="647" y="1546">2</text><text x="353" y="1597">"UART1"</text>
<text x="4457" y="253">X6</text><text class="m" x="4517" y="304">Конт.</text><text class="m" x="4690" y="304">Цепь</text><text class="m" x="4517" y="367">1</text><text class="m" x="4517" y="426">2</text><text class="m" x="4517" y="485">3</text><text x="4457" y="535">"Разъем"</text>
<text x="4445" y="654">X5</text><text class="m" x="4506" y="705">Конт.</text><text class="m" x="4678" y="705">Цепь</text>
<text class="m" x="4506" y="767">1</text><text class="m" x="4506" y="826">2</text><text class="m" x="4506" y="884">3</text><text class="m" x="4506" y="943">4</text><text class="m" x="4506" y="1002">5</text><text class="m" x="4506" y="1061">6</text>
<text class="m" x="4678" y="767">VBUS</text><text class="m" x="4678" y="826">D−</text><text class="m" x="4678" y="884">D+</text><text class="m" x="4678" y="943">ID</text><text class="m" x="4678" y="1002">GND</text><text class="m" x="4678" y="1061">SHIELD</text><text x="4445" y="1114">"USB"</text>
<text x="1909" y="3012">X9</text><text class="m" x="1970" y="3063">Конт.</text><text class="m" x="2142" y="3063">Цепь</text><text class="m" x="1970" y="3124">1</text><text class="m" x="1970" y="3183">2</text><text class="m" x="1970" y="3242">3</text><text class="m" x="1970" y="3300">4</text><text x="1909" y="3353">"Разъем RGB led"</text>
<text x="3702" y="1738">X8</text><text class="m" x="3760" y="1790">Конт.</text><text class="m" x="3933" y="1790">Цепь</text><text class="m" x="3760" y="1852">1</text><text class="m" x="3760" y="1911">2</text><text class="m" x="3760" y="1970">3</text><text class="m" x="3760" y="2029">4</text><text x="3702" y="2080">"Разъем I2C2/USART3"</text>
<text x="4479" y="1432">X10</text><text class="m" x="4541" y="1483">Конт.</text><text class="m" x="4712" y="1483">Цепь</text><text class="m" x="4541" y="1545">1</text><text class="m" x="4541" y="1604">2</text><text class="m" x="4541" y="1664">3</text><text class="m" x="4541" y="1722">4</text><text x="4479" y="1774">"Разъем SPI2"</text>
<text x="4479" y="1844">X11</text><text class="m" x="4541" y="1896">Конт.</text><text class="m" x="4712" y="1896">Цепь</text><text class="m" x="4541" y="1958">1</text><text class="m" x="4541" y="2017">2</text><text class="m" x="4541" y="2076">3</text><text x="4479" y="2129">"Разъем"</text>

<!-- component texts -->
<text x="1332" y="275">R5</text><text x="1332" y="346">10k</text><text x="1402" y="377">SB1</text><text x="1402" y="479">Reset</text><text x="1420" y="543">C1</text><text class="dl" x="1409" y="687">100pF</text>
<text x="1829" y="268">C2</text><text x="1946" y="268">C3</text><text x="2063" y="268">C4</text><text x="2182" y="268">C5</text><text x="2300" y="268">C6</text><text x="2430" y="268">C26</text>
<text class="dl" x="1734" y="333">100nF</text><text class="dl" x="1849" y="333">100nF</text><text class="dl" x="1970" y="333">100nF</text><text class="dl" x="2090" y="333">100nF</text><text class="dl" x="2204" y="333">100nF</text><text x="2346" y="327">6.3V</text><text class="dl" x="2430" y="327">100μF</text>
<text x="3011" y="208">R3</text><text x="3021" y="303">4.7k</text><text x="3011" y="362">R6</text><text x="3021" y="456">4.7k</text><text x="3420" y="167">VD2</text><text x="3431" y="350">BLUE</text><text x="3638" y="226">R4</text><text x="3681" y="308">1k</text>
<text x="4138" y="260">VD3</text><text x="4138" y="302">SS34AD</text>
<text x="3862" y="780">R8</text><text x="3928" y="780">18R</text><text x="3845" y="921">R9</text><text x="3940" y="921">18R</text><text x="4093" y="933">R7</text><text x="4093" y="975">1.5k</text>

<text x="589" y="1802">D5</text><text x="589" y="2265">AT24C64N</text>
<text x="611" y="1887">SDA</text><text x="611" y="1946">SCL</text><text x="611" y="2063">A0</text><text x="611" y="2122">A1</text><text x="611" y="2181">A2</text><text class="e" x="978" y="1887">VCC</text><text class="e" x="982" y="2122">WP</text><text class="e" x="978" y="2181">GND</text>
<text class="m" x="522" y="1866">5</text><text class="m" x="522" y="1926">6</text><text class="m" x="525" y="2043">1</text><text class="m" x="522" y="2102">2</text><text class="m" x="522" y="2161">3</text><text class="m" x="1068" y="1866">8</text><text class="m" x="1069" y="2102">7</text><text class="m" x="1069" y="2161">4</text>

<text x="612" y="2534">SDA</text><text x="612" y="2593">SCL</text><text x="612" y="2712">EP</text><text class="e" x="925" y="2534">VDD</text><text class="e" x="925" y="2593">GND</text><text class="e" x="925" y="2652">NC_1</text><text class="e" x="925" y="2712">NC_2</text>
<text class="m" x="564" y="2517">1</text><text class="m" x="560" y="2577">6</text><text class="m" x="560" y="2693">7</text><text class="m" x="977" y="2515">5</text><text class="m" x="977" y="2574">2</text><text class="m" x="977" y="2634">3</text><text class="m" x="977" y="2693">4</text>

<text x="531" y="2982">D6</text><text class="dl" x="531" y="3326">LDL1117S33R</text><text x="553" y="3066">VIN</text><text x="553" y="3242">GND</text><text class="e" x="920" y="3066">VOUT</text><text class="e" x="920" y="3124">VOUT</text>
<text x="425" y="3091">C11</text><text x="366" y="3138">16V</text><text x="391" y="3174">1μF</text><text class="m" x="478" y="3220">1</text><text class="m" x="999" y="3043">4</text><text class="m" x="999" y="3101">2</text><text x="1113" y="3218">C12</text><text x="1113" y="3260">6.3V</text><text x="1113" y="3302">4.7μF</text>

<text x="2358" y="660">D4</text><text class="dl" x="2358" y="2475">STM32F103CBT6</text>
<text x="2378" y="742">PA0</text><text x="2378" y="801">PA1</text><text x="2378" y="860">PA2</text><text x="2378" y="919">PA3</text><text x="2378" y="978">PA4</text><text x="2378" y="1037">PA5</text><text x="2378" y="1096">PA6</text><text x="2378" y="1155">PA7</text><text x="2378" y="1214">PA8</text><text x="2378" y="1273">PA9</text><text x="2378" y="1332">PA10</text><text x="2378" y="1391">PA11</text><text x="2378" y="1450">PA12</text><text x="2378" y="1509">PA15</text>
<text x="2378" y="1627">PC13</text><text x="2378" y="1686">PC14</text><text x="2378" y="1745">PC15</text>
<text x="2380" y="1864">VBAT</text><text x="2380" y="1922">VDDA</text><text x="2380" y="1981">VDD</text><text x="2380" y="2040">VDD</text><text x="2380" y="2099">VDD</text><text x="2380" y="2217">VSSA</text><text x="2380" y="2276">VSS</text><text x="2380" y="2335">VSS</text><text x="2380" y="2394">VSS</text>
<text class="e" x="2869" y="742">PB0</text><text class="e" x="2869" y="801">PB1</text><text class="e" x="2869" y="860">PB2</text><text class="e" x="2869" y="919">PB3</text><text class="e" x="2869" y="978">PB4</text><text class="e" x="2869" y="1037">PB5</text><text class="e" x="2869" y="1096">PB6</text><text class="e" x="2869" y="1155">PB7</text><text class="e" x="2869" y="1214">PB8</text><text class="e" x="2869" y="1273">PB9</text><text class="e" x="2869" y="1332">PB10</text><text class="e" x="2869" y="1391">PB11</text><text class="e" x="2869" y="1450">PB12</text><text class="e" x="2869" y="1509">PB13</text><text class="e" x="2869" y="1568">PB14</text><text class="e" x="2869" y="1627">PB15</text>
<text class="e" x="2866" y="1745">SWCLK</text><text class="e" x="2866" y="1804">SWDIO</text><text class="e" x="2866" y="2010">NRST</text><text class="e" x="2866" y="2157">BOOT</text><text class="e dr" x="2866" y="2334">OSC_IN</text><text class="e dr" x="2866" y="2393">OSC_OUT</text>
<g class="d">
<text x="2285" y="722">10</text><text x="2288" y="781">11</text><text x="2285" y="840">12</text><text x="2285" y="899">13</text><text x="2285" y="958">14</text><text x="2285" y="1017">15</text><text x="2285" y="1076">16</text><text x="2285" y="1135">17</text><text x="2283" y="1194">29</text><text x="2283" y="1253">30</text><text x="2285" y="1312">31</text><text x="2283" y="1371">32</text><text x="2283" y="1430">33</text><text x="2283" y="1489">38</text>
<text x="2291" y="1607">2</text><text x="2291" y="1666">3</text><text x="2291" y="1725">4</text>
<text x="2294" y="1841">1</text><text x="2291" y="1900">9</text><text x="2282" y="1960">24</text><text x="2282" y="2018">36</text><text x="2282" y="2078">48</text><text x="2291" y="2195">8</text><text x="2282" y="2254">23</text><text x="2282" y="2313">35</text><text x="2282" y="2372">47</text>
<text x="2962" y="722">18</text><text x="2962" y="781">19</text><text x="2962" y="840">20</text><text x="2963" y="899">39</text><text x="2965" y="958">40</text><text x="2962" y="1017">41</text><text x="2962" y="1076">42</text><text x="2962" y="1135">43</text><text x="2962" y="1194">45</text><text x="2962" y="1253">46</text><text x="2962" y="1312">21</text><text x="2962" y="1371">22</text><text x="2962" y="1430">25</text><text x="2962" y="1489">26</text><text x="2962" y="1548">27</text><text x="2962" y="1607">28</text>
<text x="2963" y="1724">37</text><text x="2963" y="1783">34</text><text x="2956" y="1990">7</text><text x="2965" y="2136">44</text><text x="2956" y="2312">5</text><text x="2956" y="2371">6</text>
</g>

<text x="3138" y="2301">R30</text><text x="3162" y="2372">1M</text><text x="3243" y="2336">Z1</text><text x="3220" y="2419">8MHz</text>
<text class="m" transform="rotate(-90 3316 2308)" x="3316" y="2308">3</text><text class="m" transform="rotate(-90 3375 2308)" x="3375" y="2308">4</text><text class="m" transform="rotate(-90 3316 2434)" x="3316" y="2434">1</text><text class="m" transform="rotate(-90 3375 2434)" x="3375" y="2434">2</text>
<text x="3524" y="2204">C7</text><text x="3478" y="2300">6V</text><text x="3562" y="2300">20pF</text><text x="3524" y="2440">C9</text><text x="3478" y="2535">6V</text><text x="3456" y="2572">20pF</text>
<text x="4442" y="2419">Z2</text><text x="4429" y="2513">32.768kHz</text><text x="4661" y="2286">C8</text><text x="4612" y="2384">50V</text><text x="4694" y="2384">12pF</text><text x="4661" y="2523">C10</text><text x="4612" y="2620">50V</text><text x="4694" y="2620">12pF</text>
<text class="m" transform="rotate(-90 4385 2386)" x="4385" y="2386">2</text><text class="m" transform="rotate(-90 4385 2516)" x="4385" y="2516">1</text>

<text class="m" transform="rotate(-90 1835 2585)" x="1835" y="2585">4</text><text class="m" transform="rotate(-90 1849 2647)" x="1849" y="2647">4</text>
<text class="m" transform="rotate(-90 1673 2705)" x="1673" y="2705">3</text><text class="m" transform="rotate(-90 1849 2705)" x="1849" y="2705">2</text><text class="m" transform="rotate(-90 2026 2705)" x="2026" y="2705">1</text>
<text class="m" transform="rotate(-90 1653 2767)" x="1653" y="2767">3</text><text class="m" transform="rotate(-90 1829 2767)" x="1829" y="2767">2</text><text class="m" transform="rotate(-90 2005 2767)" x="2005" y="2767">1</text>
<text x="1621" y="3079">R22</text><text x="1640" y="3162">470R</text><text x="1538" y="3197">R23</text><text x="1557" y="3280">470R</text><text x="1699" y="3256">R24</text><text x="1675" y="3339">470R</text>

<!-- notes -->
<polygon class="sh" points="1822,949 2022,949 2022,1106 1991,1138 1822,1138"/><polygon class="n" points="1816,943 2016,943 2016,1100 1985,1131 1816,1131"/><polygon class="fo" points="2016,1100 1985,1100 1985,1131"/><polygon class="tr" points="1825,951 1820,961 1830,961"/>
<polygon class="sh" points="1644,1586 1964,1586 1964,1614 1933,1646 1644,1646"/><polygon class="n" points="1638,1580 1958,1580 1958,1608 1927,1639 1638,1639"/><polygon class="fo" points="1958,1608 1927,1608 1927,1639"/><polygon class="tr" points="1647,1588 1642,1598 1652,1598"/>
<polygon class="sh" points="1644,1681 1999,1681 1999,1708 1968,1740 1644,1740"/><polygon class="n" points="1638,1675 1993,1675 1993,1702 1962,1733 1638,1733"/><polygon class="fo" points="1993,1702 1962,1702 1962,1733"/><polygon class="tr" points="1647,1683 1642,1693 1652,1693"/>
<polygon class="sh" points="3402,1303 3614,1303 3614,1367 3583,1399 3402,1399"/><polygon class="n2" points="3396,1297 3608,1297 3608,1361 3577,1392 3396,1392"/><polygon class="fo" points="3608,1361 3577,1361 3577,1392"/><polygon class="tr" points="3405,1305 3400,1315 3410,1315"/>
<polygon class="sh" points="3402,1433 3603,1433 3603,1614 3572,1646 3402,1646"/><polygon class="n2" points="3396,1427 3597,1427 3597,1608 3566,1639 3396,1639"/><polygon class="fo" points="3597,1608 3566,1608 3566,1639"/><polygon class="tr" points="3405,1435 3400,1445 3410,1445"/>
<text class="s" x="1831" y="981">Подключение</text><text class="s" x="1831" y="1012">к W5500</text>
<text class="s" x="1654" y="1618">Набортный светодиод</text><text class="s" x="1654" y="1711">Низкочастотный кварц</text>
<text class="s" x="3412" y="1335">Внешний</text><text class="s" x="3412" y="1365">I2C2/UART3</text><text class="s" x="3412" y="1465">Внешний SPI</text>
</svg>
</body></html>
